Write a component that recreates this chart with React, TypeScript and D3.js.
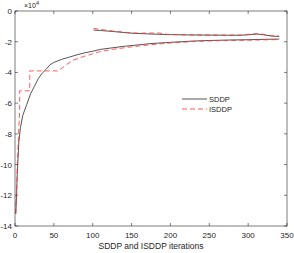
import React from "react";
import * as d3 from "d3";

const sddpLowerIter = [1, 2, 3, 4, 5, 7, 10, 15, 20, 25, 30, 35, 40, 45, 50, 60, 70, 80, 90, 100, 110, 125, 140, 160, 175, 200, 232, 250, 275, 300, 325, 340];
const sddpLowerVal = [-13.2, -12.0, -10.5, -9.5, -8.5, -7.6, -6.8, -6.1, -5.4, -4.9, -4.4, -4.05, -3.8, -3.5, -3.35, -3.15, -3.0, -2.85, -2.72, -2.62, -2.5, -2.4, -2.3, -2.2, -2.12, -2.04, -1.95, -1.92, -1.89, -1.87, -1.84, -1.83];

const sddpUpperIter = [101, 110, 125, 140, 152, 175, 200, 225, 250, 275, 290, 300, 311, 320, 330, 340];
const sddpUpperVal = [-1.24, -1.27, -1.33, -1.4, -1.45, -1.5, -1.54, -1.56, -1.57, -1.58, -1.58, -1.55, -1.5, -1.55, -1.63, -1.66];

const isddpLowerIter = [1, 3, 5, 6, 6, 19, 19, 56, 66, 75, 88, 100, 109, 125, 152, 174, 200, 232, 250, 275, 300, 340];
const isddpLowerVal = [-13.2, -10.0, -7.5, -6.6, -5.2, -5.2, -3.9, -3.9, -3.5, -3.2, -2.97, -2.78, -2.65, -2.5, -2.32, -2.2, -2.08, -1.98, -1.95, -1.92, -1.9, -1.86];

const isddpUpperIter = [101, 110, 125, 140, 150, 160, 185, 195, 225, 250, 275, 290, 300, 311, 320, 330, 340];
const isddpUpperVal = [-1.13, -1.2, -1.3, -1.38, -1.43, -1.44, -1.43, -1.52, -1.55, -1.56, -1.57, -1.57, -1.52, -1.48, -1.52, -1.61, -1.64];

const xTicks = [0, 50, 100, 150, 200, 250, 300, 350];
const yTicks = [0, -2, -4, -6, -8, -10, -12, -14];
const seriesNames = ["SDDP", "ISDDP"];
const xLabel = "SDDP and ISDDP iterations";

export default function App() {
  const W = 294, H = 253;
  const L = 15, R = 287, T = 11, B = 226;
  const x = d3.scaleLinear().domain([0, 350]).range([L, R]);
  const y = d3.scaleLinear().domain([-14, 0]).range([B, T]);
  const line = d3.line<[number, number]>().x(d => x(d[0])).y(d => y(d[1]));
  const zip = (a: number[], b: number[]) => a.map((v, i) => [v, b[i]] as [number, number]);
  const axisColor = "#262626";
  const font = "Liberation Sans, Arial, sans-serif";
  const tl = 3;
  const blackStyle = { fill: "none", stroke: "#2a2a2a", strokeWidth: 0.8 };
  const redStyle = { fill: "none", stroke: "#ff3333", strokeWidth: 0.8, strokeDasharray: "5,3" };
  return (
    <svg width={W} height={H} style={{ position: "absolute", left: 0, top: 0, background: "#fff" }}>
      <rect x={0} y={0} width={W} height={H} fill="#fff" />
      <path d={line(zip(sddpLowerIter, sddpLowerVal)) || ""} {...blackStyle} />
      <path d={line(zip(sddpUpperIter, sddpUpperVal)) || ""} {...blackStyle} />
      <path d={line(zip(isddpLowerIter, isddpLowerVal)) || ""} {...redStyle} />
      <path d={line(zip(isddpUpperIter, isddpUpperVal)) || ""} {...redStyle} />
      <rect x={L} y={T} width={R - L} height={B - T} fill="none" stroke={axisColor} strokeWidth={0.6} />
      {xTicks.map(t => (
        <g key={"x" + t}>
          <line x1={x(t)} x2={x(t)} y1={B} y2={B - tl} stroke={axisColor} strokeWidth={0.6} />
          <line x1={x(t)} x2={x(t)} y1={T} y2={T + tl} stroke={axisColor} strokeWidth={0.6} />
          <text x={x(t)} y={B + 12} fontSize={8} fontFamily={font} textAnchor="middle" fill={axisColor}>{t}</text>
        </g>
      ))}
      {yTicks.map(t => (
        <g key={"y" + t}>
          <line x1={L} x2={L + tl} y1={y(t)} y2={y(t)} stroke={axisColor} strokeWidth={0.6} />
          <line x1={R} x2={R - tl} y1={y(t)} y2={y(t)} stroke={axisColor} strokeWidth={0.6} />
          <text x={L - 3} y={y(t) + 3} fontSize={8} fontFamily={font} textAnchor="end" fill={axisColor}>{t}</text>
        </g>
      ))}
      <text x={24} y={8} fontSize={7} fontFamily={font} fill={axisColor}>
        ×10<tspan dy={-3} fontSize={5.5}>4</tspan>
      </text>
      <text x={(L + R) / 2} y={249} fontSize={8.5} fontFamily={font} textAnchor="middle" fill={axisColor}>{xLabel}</text>
      <line x1={182} x2={207} y1={99} y2={99} {...blackStyle} />
      <line x1={182} x2={207} y1={109} y2={109} {...redStyle} />
      <text x={209} y={102} fontSize={7.5} fontFamily={font} fill={axisColor}>{seriesNames[0]}</text>
      <text x={209} y={112} fontSize={7.5} fontFamily={font} fill={axisColor}>{seriesNames[1]}</text>
    </svg>
  );
}
